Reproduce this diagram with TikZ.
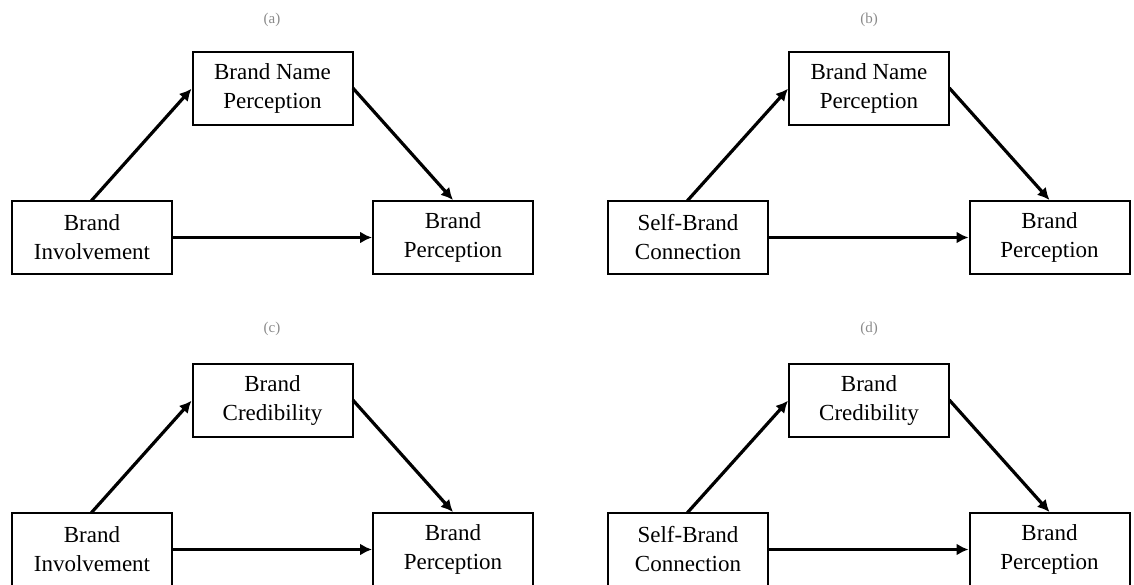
\documentclass[tikz,border=0pt]{standalone}
\usepackage{fontspec}
\setmainfont{Liberation Serif}
\usetikzlibrary{arrows.meta}
\definecolor{lblgray}{HTML}{8A8A8A}
\tikzset{
  varbox/.style={draw=black, line width=2pt, minimum width=160pt, minimum height=73pt,
    inner sep=0pt, align=center, font=\fontsize{23}{29}\selectfont},
  panellabel/.style={text=lblgray, font=\fontsize{15}{18}\selectfont, inner sep=0pt},
  pathline/.style={line width=3.2pt, -{Latex[length=12pt,width=12pt]}, shorten <=-1pt}
}
\begin{document}
\begin{tikzpicture}[x=1pt,y=-1pt]
\useasboundingbox (0,0) rectangle (1134,584);
\clip (0,0) rectangle (1134,584);
% panel (a)
\node[panellabel] (la) at (272,20) {(a)};
\node[varbox] (a1) at (92,237.5) {Brand\\Involvement};
\node[varbox] (a2) at (272.5,88.75) {Brand Name\\Perception};
\node[varbox] (a3) at (453,237.5) {Brand\\Perception};
\draw[pathline] (a1.north) -- (a2.west);
\draw[pathline] (a2.east) -- (a3.north);
\draw[pathline] (a1.east) -- (a3.west);
% panel (b)
\node[panellabel] (lb) at (869,20) {(b)};
\node[varbox] (b1) at (688,237.5) {Self-Brand\\Connection};
\node[varbox] (b2) at (869,88.75) {Brand Name\\Perception};
\node[varbox] (b3) at (1049.5,237.5) {Brand\\Perception};
\draw[pathline] (b1.north) -- (b2.west);
\draw[pathline] (b2.east) -- (b3.north);
\draw[pathline] (b1.east) -- (b3.west);
% panel (c)
\node[panellabel] (lc) at (272,329) {(c)};
\node[varbox] (c1) at (92,549.5) {Brand\\Involvement};
\node[varbox] (c2) at (272.5,400.75) {Brand\\Credibility};
\node[varbox] (c3) at (453,549.5) {Brand\\Perception};
\draw[pathline] (c1.north) -- (c2.west);
\draw[pathline] (c2.east) -- (c3.north);
\draw[pathline] (c1.east) -- (c3.west);
% panel (d)
\node[panellabel] (ld) at (869,329) {(d)};
\node[varbox] (d1) at (688,549.5) {Self-Brand\\Connection};
\node[varbox] (d2) at (869,400.75) {Brand\\Credibility};
\node[varbox] (d3) at (1049.5,549.5) {Brand\\Perception};
\draw[pathline] (d1.north) -- (d2.west);
\draw[pathline] (d2.east) -- (d3.north);
\draw[pathline] (d1.east) -- (d3.west);
\end{tikzpicture}
\end{document}
